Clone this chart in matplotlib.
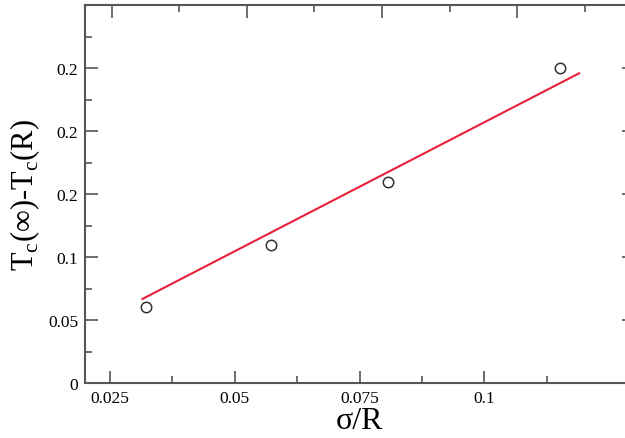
import numpy as np
import matplotlib
matplotlib.use('Agg')
import matplotlib.pyplot as plt

# Data.
sigma_r = [0.0322, 0.0572, 0.0808, 0.1151]
delta_tc = [0.0601, 0.1095, 0.1593, 0.2500]

# Linear fit drawn as a red line.
fit_x = [0.0315, 0.1190]
fit_y = [0.0667, 0.2458]

xticks = [0.025, 0.05, 0.075, 0.1]
xlabels = ['0.025', '0.05', '0.075', '0.1']
yticks = [0, 0.05, 0.1, 0.15, 0.2, 0.25]
ylabels = ['0', '0.05', '0.1', '0.2', '0.2', '0.2']
top_major = [0.02534, 0.05242, 0.0795, 0.10658]

plt.rcParams['font.family'] = ['Liberation Serif', 'DejaVu Serif']
plt.rcParams['mathtext.fontset'] = 'custom'
plt.rcParams['mathtext.rm'] = 'Liberation Serif'

fig = plt.figure(figsize=(6.25, 4.39), dpi=100)
ax = fig.add_axes([85 / 625, 1 - 384 / 439, (634 - 85) / 625, (384 - 6) / 439])

spine_col = '#555555'
ax.plot(fit_x, fit_y, color='#e8203a', lw=1.5, zorder=2)
ax.plot(sigma_r, delta_tc, 'o', mfc='none', mec='#333333', mew=1.1, ms=7.5, zorder=3)

ax.set_xlim(0.02, 0.13)
ax.set_ylim(0, 0.3)

ax.set_xticks(xticks)
ax.set_xticklabels(xlabels)
ax.set_xticks([0.0375, 0.0625, 0.0875, 0.1125], minor=True)
ax.set_yticks(yticks)
ax.set_yticklabels(ylabels)
ax.set_yticks([0.025, 0.075, 0.125, 0.175, 0.225, 0.275], minor=True)

ax.tick_params(which='both', direction='in', colors=spine_col, labelcolor='black',
               labelsize=12.5, right=True, top=False, width=1.2)
ax.tick_params(which='major', length=9, pad=5)
ax.tick_params(which='minor', length=5)

for s in ax.spines.values():
    s.set_color(spine_col)
    s.set_linewidth(1.5)

# top axis ticks sit on their own spacing
top = ax.twiny()
top.set_xlim(ax.get_xlim())
step = top_major[1] - top_major[0]
top.set_xticks(top_major)
top.set_xticks([t + step / 2 for t in top_major], minor=True)
top.tick_params(which='both', direction='in', colors=spine_col, labeltop=False, width=1.2)
top.tick_params(which='major', length=9)
top.tick_params(which='minor', length=5)
for s in top.spines.values():
    s.set_visible(False)

ax.set_xlabel('σ/R', fontsize=23, labelpad=0)
ax.set_ylabel(r'T$_\mathrm{c}$(∞)-T$_\mathrm{c}$(R)', fontsize=22, labelpad=4)

fig.savefig('out.png', dpi=100)
